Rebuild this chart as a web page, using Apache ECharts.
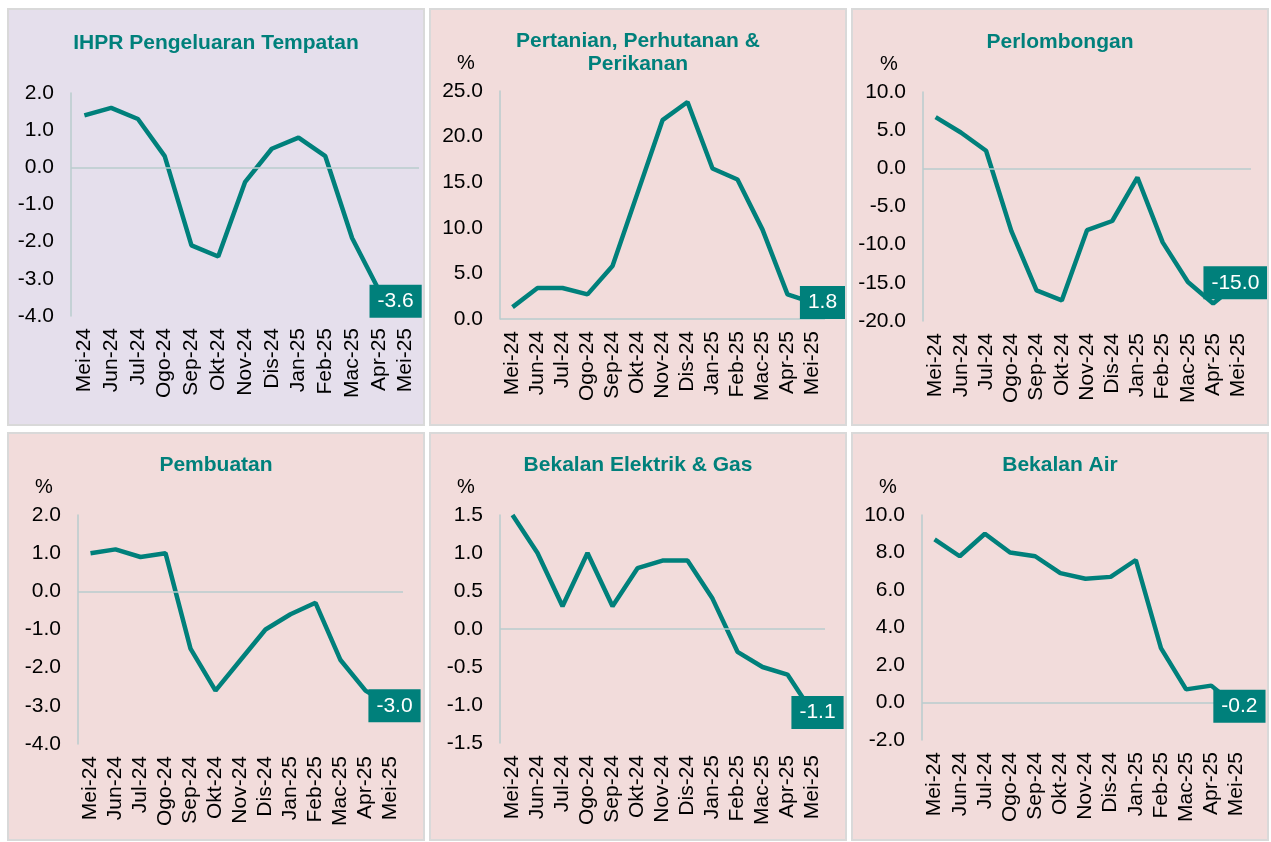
<!DOCTYPE html>
<html>
<head>
<meta charset="utf-8">
<title>IHPR</title>
<script src="https://cdn.jsdelivr.net/npm/echarts@6/dist/echarts.min.js"></script>
<style>
body{margin:0;background:#fff;width:1271px;height:842px;overflow:hidden;}
.panel{position:absolute;box-sizing:border-box;border:2px solid #D9D9D9;background:#F2DCDB;}
</style>
</head>
<body>
<div id="p1" class="panel" style="left:7px;top:8px;width:418px;height:418px;background:#E5DFEC"></div>
<div id="p2" class="panel" style="left:429px;top:8px;width:418px;height:418px"></div>
<div id="p3" class="panel" style="left:851px;top:8px;width:418px;height:418px"></div>
<div id="p4" class="panel" style="left:7px;top:432px;width:418px;height:409px"></div>
<div id="p5" class="panel" style="left:429px;top:432px;width:418px;height:409px"></div>
<div id="p6" class="panel" style="left:851px;top:432px;width:418px;height:409px"></div>
<script>
// bulan
var months = ['Mei-24','Jun-24','Jul-24','Ogo-24','Sep-24','Okt-24','Nov-24','Dis-24','Jan-25','Feb-25','Mac-25','Apr-25','Mei-25'];

// nilai % setiap sektor
var ihprTempatan = [1.4, 1.6, 1.3, 0.3, -2.1, -2.4, -0.4, 0.5, 0.8, 0.3, -1.9, -3.3, -3.6];
var pertanian    = [1.3, 3.4, 3.4, 2.7, 5.8, 13.8, 21.8, 23.8, 16.5, 15.3, 9.8, 2.7, 1.8];
var perlombongan = [6.7, 4.7, 2.3, -8.2, -16.0, -17.3, -8.1, -6.9, -1.2, -9.7, -14.9, -17.7, -15.0];
var pembuatan    = [1.0, 1.1, 0.9, 1.0, -1.5, -2.6, -1.8, -1.0, -0.6, -0.3, -1.8, -2.6, -3.0];
var elektrikGas  = [1.5, 1.0, 0.3, 1.0, 0.3, 0.8, 0.9, 0.9, 0.4, -0.3, -0.5, -0.6, -1.1];
var bekalanAir   = [8.7, 7.8, 9.0, 8.0, 7.8, 6.9, 6.6, 6.7, 7.6, 2.9, 0.7, 0.9, -0.2];

// skala paksi y [min, max, selang]
var scaleTempatan = [-4, 2, 1];
var scalePertanian = [0, 25, 5];
var scalePerlombongan = [-20, 10, 5];
var scalePembuatan = [-4, 2, 1];
var scaleElektrik = [-1.5, 1.5, 0.5];
var scaleAir = [-2, 10, 2];

var TEAL = '#00807B';
var AXIS = '#B8CCCE';
var FONT = '"Liberation Sans", Arial, sans-serif';

var drawPanel = function (id, title, values, scale, grid, opts) {
	var last = values.length - 1;
	// hanya nilai terakhir untuk kotak label
	var lastOnly = values.map(function (v, i) { return i === last ? v : '-'; });
	var titles = [{
		text: title,
		left: 'center',
		top: opts.titleTop,
		padding: 0,
		textStyle: {color: TEAL, fontFamily: FONT, fontSize: 21, fontWeight: 'bold', lineHeight: 23}
	}];
	if (opts.percent) {
		titles.push({
			text: '%',
			left: grid.left - 43,
			top: grid.top - 38,
			padding: 0,
			textStyle: {color: '#000', fontFamily: FONT, fontSize: 20, fontWeight: 'normal'}
		});
	}
	var option = {
		animation: false,
		title: titles,
		grid: grid,
		xAxis: {
			type: 'category',
			data: months,
			boundaryGap: true,
			axisLine: {show: false},
			axisTick: {show: false},
			axisLabel: {rotate: 90, interval: 0, margin: 12, color: '#000', fontFamily: FONT, fontSize: 21}
		},
		yAxis: {
			type: 'value',
			min: scale[0],
			max: scale[1],
			interval: scale[2],
			splitLine: {show: false},
			axisTick: {show: false},
			axisLine: {show: true, lineStyle: {color: AXIS, width: 1.5}},
			axisLabel: {
				margin: 17,
				color: '#000',
				fontFamily: FONT,
				fontSize: 21,
				formatter: function (v) { return v.toFixed(1); }
			}
		},
		series: [{
			type: 'line',
			data: values,
			symbol: 'none',
			lineStyle: {color: TEAL, width: 4.5},
			z: 2,
			markLine: {
				silent: true,
				symbol: ['none', 'none'],
				label: {show: false},
				lineStyle: {color: AXIS, type: 'solid', width: 1.5},
				data: [{yAxis: 0}]
			}
		}, {
			type: 'scatter',
			data: lastOnly,
			symbolSize: 1,
			itemStyle: {color: TEAL, opacity: 1},
			z: 10,
			silent: true,
			label: {
				show: true,
				position: 'inside',
				offset: [opts.labelDx, 0],
				formatter: function (p) { return p.value.toFixed(1); },
				backgroundColor: TEAL,
				color: '#fff',
				opacity: 1,
				fontFamily: FONT,
				fontSize: 21,
				lineHeight: 21,
				padding: [6, 8]
			}
		}]
	};
	var chart = echarts.init(document.getElementById(id));
	chart.setOption(option);
};

drawPanel('p1', 'IHPR Pengeluaran Tempatan', ihprTempatan, scaleTempatan,
	{left: 62, top: 83, width: 348, height: 223}, {titleTop: 22, labelDx: -10, percent: false});
drawPanel('p2', 'Pertanian, Perhutanan &\nPerikanan', pertanian, scalePertanian,
	{left: 69, top: 81, width: 325, height: 228}, {titleTop: 20, labelDx: 10, percent: true});
drawPanel('p3', 'Perlombongan', perlombongan, scalePerlombongan,
	{left: 70, top: 82, width: 328, height: 229}, {titleTop: 21, labelDx: -3, percent: true});
drawPanel('p4', 'Pembuatan', pembuatan, scalePembuatan,
	{left: 69, top: 81, width: 325, height: 229}, {titleTop: 20, labelDx: 4, percent: true});
drawPanel('p5', 'Bekalan Elektrik & Gas', elektrikGas, scaleElektrik,
	{left: 69, top: 81, width: 325, height: 228}, {titleTop: 20, labelDx: 5, percent: true});
drawPanel('p6', 'Bekalan Air', bekalanAir, scaleAir,
	{left: 69, top: 81, width: 327, height: 225}, {titleTop: 20, labelDx: 3, percent: true});
</script>
</body>
</html>
